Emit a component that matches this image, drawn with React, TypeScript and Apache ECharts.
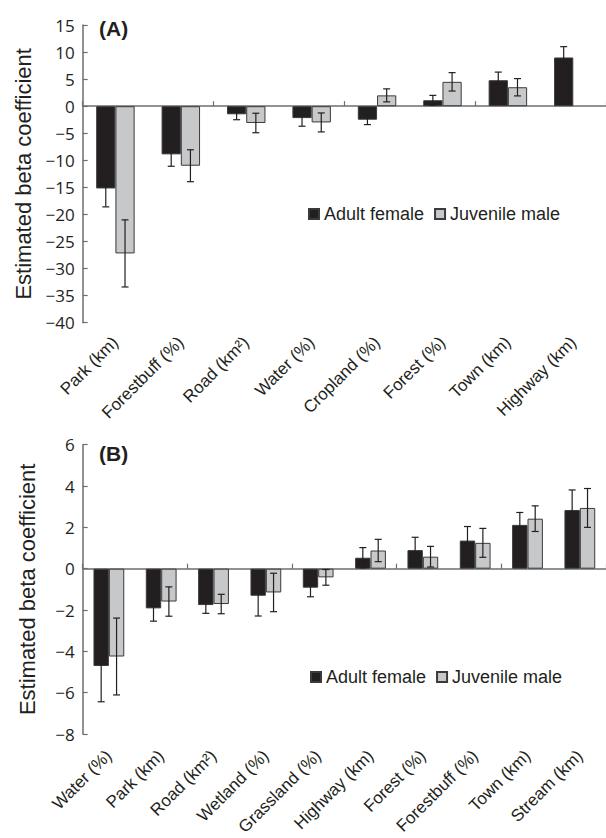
import React, { useEffect, useRef } from "react";
import * as echarts from "echarts";

// ---- Panel A data ----
const categoriesA = ["Park (km)", "Forestbuff (%)", "Road (km²)", "Water (%)", "Cropland (%)", "Forest (%)", "Town (km)", "Highway (km)"];
const femaleA = [-15.2, -8.9, -1.5, -2.2, -2.5, 1.1, 4.8, 9.0];
const femaleErrA = [3.4, 2.2, 1.0, 1.5, 0.9, 0.9, 1.5, 2.0];
const maleA: (number | null)[] = [-27.2, -11.0, -3.1, -3.0, 2.0, 4.5, 3.5, null];
const maleErrA: (number | null)[] = [6.2, 2.95, 1.8, 1.75, 1.2, 1.7, 1.6, null];
const ticksA = { min: -40, max: 15, interval: 5 };

// ---- Panel B data ----
const categoriesB = ["Water (%)", "Park (km)", "Road (km²)", "Wetland (%)", "Grassland (%)", "Highway (km)", "Forest (%)", "Forestbuff (%)", "Town (km)", "Stream (km)"];
const femaleB = [-4.71, -1.92, -1.76, -1.31, -0.92, 0.53, 0.9, 1.36, 2.12, 2.84];
const femaleErrB = [1.73, 0.62, 0.4, 0.98, 0.44, 0.49, 0.62, 0.68, 0.6, 0.97];
const maleB = [-4.25, -1.59, -1.71, -1.15, -0.42, 0.88, 0.58, 1.25, 2.42, 2.94];
const maleErrB = [1.86, 0.71, 0.47, 0.93, 0.38, 0.54, 0.5, 0.7, 0.62, 0.94];
const ticksB = { min: -8, max: 6, interval: 2 };

const seriesNames = ["Adult female", "Juvenile male"];

const TXT = "#231f20";
const AXIS = "#6d6e71";
const BLACK = "#231f20";
const GRAY = "#c7c8ca";
const SANS = "Liberation Sans";
const TICKF = "Open Sans";
const BAR_FRAC = 0.294;

function errData(vals: (number | null)[], errs: (number | null)[]) {
  const out: number[][] = [];
  vals.forEach((v, i) => {
    const e = errs[i];
    if (v != null && e != null) out.push([i, v, e]);
  });
  return out;
}

function errSeries(name: string, xi: number, yi: number, data: number[][], sign: number) {
  return {
    type: "custom",
    name,
    xAxisIndex: xi,
    yAxisIndex: yi,
    z: 10,
    encode: { x: 0, y: 1 },
    data,
    renderItem: (params: any, api: any) => {
      const idx = api.value(0);
      const v = api.value(1);
      const e = api.value(2);
      const band = api.size([1, 0])[0];
      const off = sign * band * BAR_FRAC / 2;
      const hi = api.coord([idx, v + e]);
      const lo = api.coord([idx, v - e]);
      const x = hi[0] + off;
      const cap = 3.5;
      const st = { stroke: "#231f20", lineWidth: 1.2 };
      return {
        type: "group",
        children: [
          { type: "line", shape: { x1: x, y1: hi[1], x2: x, y2: lo[1] }, style: st },
          { type: "line", shape: { x1: x - cap, y1: hi[1], x2: x + cap, y2: hi[1] }, style: st },
          { type: "line", shape: { x1: x - cap, y1: lo[1], x2: x + cap, y2: lo[1] }, style: st },
        ],
      };
    },
  };
}

function zeroAxis(grid: number, cats: string[]) {
  return {
    type: "category",
    gridIndex: grid,
    data: cats,
    position: "bottom",
    axisLine: { show: true, onZero: true, lineStyle: { color: AXIS, width: 1.5 } },
    axisTick: { show: true, inside: true, length: 5, lineStyle: { color: AXIS, width: 1.2 } },
    axisLabel: { show: false },
    splitLine: { show: false },
  };
}

function labelAxis(grid: number, cats: string[], margin: number) {
  return {
    type: "category",
    gridIndex: grid,
    data: cats,
    position: "bottom",
    axisLine: { show: false, onZero: false },
    axisTick: { show: false },
    axisLabel: {
      show: true,
      interval: 0,
      rotate: 45,
      margin,
      fontSize: 17,
      fontFamily: SANS,
      color: TXT,
    },
    splitLine: { show: false },
  };
}

function valueAxis(grid: number, t: { min: number; max: number; interval: number }) {
  return {
    type: "value",
    gridIndex: grid,
    min: t.min,
    max: t.max,
    interval: t.interval,
    name: "Estimated beta coefficient",
    nameLocation: "middle",
    nameGap: 44,
    nameTextStyle: { fontSize: 22, fontFamily: SANS, color: TXT },
    axisLine: { show: true, lineStyle: { color: AXIS, width: 1.5 } },
    axisTick: { show: true, inside: true, length: 5, lineStyle: { color: AXIS, width: 1.2 } },
    axisLabel: {
      margin: 8,
      fontSize: 17,
      fontFamily: TICKF,
      color: TXT,
      formatter: (v: number) => (v < 0 ? "\u2212" + Math.abs(v) : String(v)),
    },
    splitLine: { show: false },
  };
}

function barSeries(name: string, xi: number, yi: number, data: (number | null)[], color: string) {
  return {
    type: "bar",
    name,
    xAxisIndex: xi,
    yAxisIndex: yi,
    data,
    barWidth: (BAR_FRAC * 100).toFixed(1) + "%",
    barGap: "0%",
    itemStyle: { color, borderColor: "#3a3a3c", borderWidth: 1 },
  };
}

export default function App() {
  const ref = useRef<HTMLDivElement>(null);
  useEffect(() => {
    if (!ref.current) return;
    const chart = echarts.init(ref.current, null, { renderer: "svg" });
    const legendBase = {
      data: seriesNames,
      orient: "horizontal",
      icon: "rect",
      itemWidth: 10,
      itemHeight: 10,
      itemGap: 10,
      selectedMode: false,
      textStyle: { fontSize: 18, fontFamily: SANS, color: TXT, lineHeight: 18 },
    };
    chart.setOption({
      animation: false,
      backgroundColor: "#ffffff",
      grid: [
        { left: 82.7, top: 25, width: 532, height: 297.7 },
        { left: 82.7, top: 444.7, width: 532, height: 289.3 },
      ],
      xAxis: [zeroAxis(0, categoriesA), labelAxis(0, categoriesA, 17), zeroAxis(1, categoriesB), labelAxis(1, categoriesB, 19)],
      yAxis: [valueAxis(0, ticksA), valueAxis(1, ticksB)],
      legend: [
        { ...legendBase, left: 303, top: 200 },
        { ...legendBase, left: 305, top: 663 },
      ],
      graphic: [
        { type: "text", x: 99, y: 28, style: { text: "(A)", fontSize: 21, fontWeight: "bold", fontFamily: SANS, fill: TXT, verticalAlign: "middle" } },
        { type: "text", x: 99, y: 453, style: { text: "(B)", fontSize: 21, fontWeight: "bold", fontFamily: SANS, fill: TXT, verticalAlign: "middle" } },
      ],
      series: [
        barSeries(seriesNames[0], 0, 0, femaleA, BLACK),
        barSeries(seriesNames[1], 0, 0, maleA, GRAY),
        errSeries("errFA", 0, 0, errData(femaleA, femaleErrA), -1),
        errSeries("errMA", 0, 0, errData(maleA, maleErrA), 1),
        barSeries(seriesNames[0], 2, 1, femaleB, BLACK),
        barSeries(seriesNames[1], 2, 1, maleB, GRAY),
        errSeries("errFB", 2, 1, errData(femaleB, femaleErrB), -1),
        errSeries("errMB", 2, 1, errData(maleB, maleErrB), 1),
      ],
    });
    return () => chart.dispose();
  }, []);
  return <div ref={ref} style={{ position: "absolute", left: 0, top: 0, width: 606, height: 838 }} />;
}
